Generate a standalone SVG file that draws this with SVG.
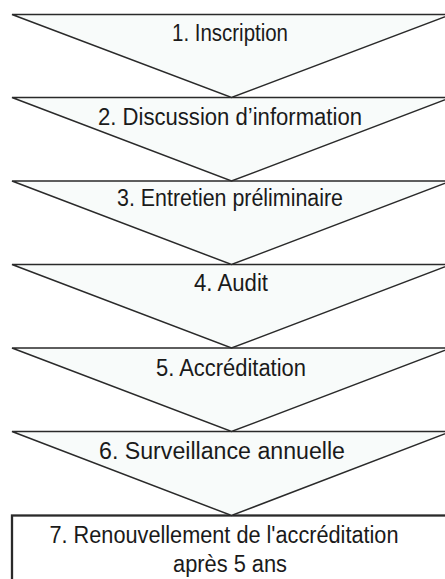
<svg xmlns="http://www.w3.org/2000/svg" width="445" height="579" viewBox="0 0 445 579">
<style>
.tri{fill:#f8fbfa;stroke:#2a2a2a;stroke-width:1.5;stroke-linejoin:miter}
.box{fill:#ffffff;stroke:#2a2a2a;stroke-width:2.3}
.t{font-family:"Liberation Sans",Arial,sans-serif;font-size:23.5px;fill:#1a1a1a;text-anchor:middle}
</style>
<rect width="445" height="579" fill="#ffffff"/>
<g id="connectors"></g>
<g id="step7">
<rect class="box" x="12" y="515.5" width="440" height="80"/>
<text class="t" x="224" y="543" textLength="349" lengthAdjust="spacingAndGlyphs">7. Renouvellement de l'accréditation</text>
<text class="t" x="230" y="571.5" textLength="114" lengthAdjust="spacingAndGlyphs">après 5 ans</text>
</g>
<g id="step6">
<polygon class="tri" points="12,431.5 451,431.5 231.5,515.5"/>
<text class="t" x="222" y="459" textLength="246" lengthAdjust="spacingAndGlyphs">6. Surveillance annuelle</text>
</g>
<g id="step5">
<polygon class="tri" points="12,348 451,348 231.5,431.5"/>
<text class="t" x="231" y="375.5" textLength="150" lengthAdjust="spacingAndGlyphs">5. Accréditation</text>
</g>
<g id="step4">
<polygon class="tri" points="12,264.5 451,264.5 231.5,348"/>
<text class="t" x="231" y="291" textLength="74" lengthAdjust="spacingAndGlyphs">4. Audit</text>
</g>
<g id="step3">
<polygon class="tri" points="12,181 451,181 231.5,264.5"/>
<text class="t" x="230" y="206" textLength="226" lengthAdjust="spacingAndGlyphs">3. Entretien préliminaire</text>
</g>
<g id="step2">
<polygon class="tri" points="12,97.5 451,97.5 231.5,181"/>
<text class="t" x="230" y="125" textLength="264" lengthAdjust="spacingAndGlyphs">2. Discussion d’information</text>
</g>
<g id="step1">
<polygon class="tri" points="12,14.5 451,14.5 231.5,97.5"/>
<text class="t" x="230" y="41" textLength="116" lengthAdjust="spacingAndGlyphs">1. Inscription</text>
</g>
</svg>
